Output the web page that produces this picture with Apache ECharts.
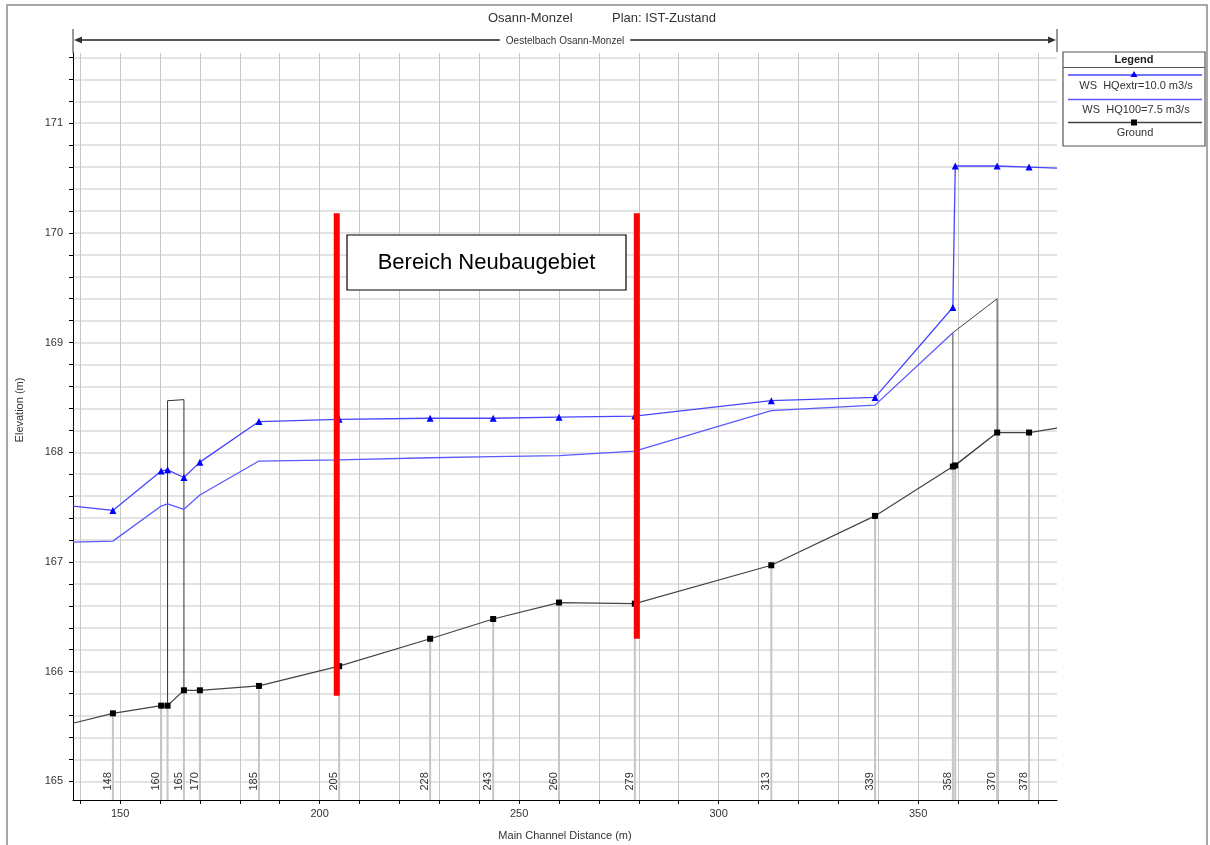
<!DOCTYPE html>
<html><head><meta charset="utf-8">
<script src="https://cdn.jsdelivr.net/npm/echarts@6/dist/echarts.min.js"></script>
<style>html,body{margin:0;padding:0;background:#fff}#c{width:1210px;height:845px}</style>
</head><body><div id="c"></div>
<script>
// ---- data ----
const xMin = 138.2, xMax = 384.8, yMin = 164.83, yMax = 171.64;
const xTickValues = [140,150,160,170,180,190,200,210,220,230,240,250,260,270,280,290,300,310,320,330,340,350,360,370,380];
const xLabelValues = [150,200,250,300,350];
const yTickValues = [165.0,165.2,165.4,165.6,165.8,166.0,166.2,166.4,166.6,166.8,167.0,167.2,167.4,167.6,167.8,168.0,168.2,168.4,168.6,168.8,169.0,169.2,169.4,169.6,169.8,170.0,170.2,170.4,170.6,170.8,171.0,171.2,171.4,171.6];
const yLabelValues = [165,166,167,168,169,170,171];

const stationX     = [148.2, 160.3, 161.9, 166.0, 170.0, 184.8, 204.9, 227.7, 243.5, 260.0, 279.0, 313.2, 339.2, 358.7, 359.3, 369.8, 377.8];
const stationLabel = ['148','160','',   '165','170','185','205','228','243','260','279','313','339','358','',   '370','378'];
const groundElev   = [165.62,165.69,165.69,165.83,165.83,165.87,166.05,166.30,166.48,166.63,166.62,166.97,167.42,167.87,167.88,168.18,168.18];
const groundEdges  = [165.53, 168.22];
const wsExtrElev   = [167.47,167.83,167.84,167.77,167.91,168.28,168.30,168.31,168.31,168.32,168.33,168.47,168.50,169.32,170.61,170.61,170.60];
const wsExtrEdges  = [167.51, 170.59];
const ws100Elev    = [167.19,167.51,167.53,167.48,167.61,167.92,167.93,167.95,167.96,167.97,168.01,168.38,168.43,169.09,null,null,null];
const ws100Edges   = [167.18, null];

const bridgeOutline = [[161.9,165.69],[161.9,168.47],[166.0,168.48],[166.0,165.83]];
const weirOutline   = [[358.7,167.87],[358.7,169.09],[369.8,169.40],[369.8,168.18],[358.7,167.87]];

const redMarkX      = [204.3, 279.5];
const redMarkTop    = [170.18, 170.18];
const redMarkBottom = [165.78, 166.30];

const seriesNames = ['WS  HQextr=10.0 m3/s', 'WS  HQ100=7.5 m3/s', 'Ground'];
const annotationText = 'Bereich Neubaugebiet';
const titleLeft = 'Osann-Monzel', titleRight = 'Plan: IST-Zustand';
const riverName = 'Oestelbach Osann-Monzel';

// ---- build ----
const FONT = '"Liberation Sans", Arial, sans-serif';
function profile(vals, edges) {
  const arr = [];
  if (edges[0] !== null) arr.push({value: [xMin, edges[0]], symbol: 'none'});
  stationX.forEach((x, i) => { if (vals[i] !== null) arr.push({value: [x, vals[i]]}); });
  if (edges[1] !== null) arr.push({value: [xMax, edges[1]], symbol: 'none'});
  return arr;
}

const chart = echarts.init(document.getElementById('c'), null, {renderer: 'canvas'});
const series = [
  {
    type: 'custom', coordinateSystem: 'cartesian2d', silent: true, z: 1,
    data: stationX.map((x, i) => [x, groundElev[i]]),
    renderItem(params, api) {
      const x = api.value(0), g = api.value(1);
      const p1 = api.coord([x, g]), p2 = api.coord([x, yMin]), pl = api.coord([x, 165]);
      const children = [{type: 'line', shape: {x1: p1[0], y1: p1[1], x2: p2[0], y2: p2[1]},
        style: {stroke: '#c6c6c6', lineWidth: 2}}];
      const lab = stationLabel[params.dataIndex];
      if (lab) children.push({type: 'text', x: pl[0] - 5, y: pl[1], rotation: Math.PI / 2,
        style: {text: lab, align: 'center', verticalAlign: 'middle', fill: '#333', font: '11px ' + FONT}});
      return {type: 'group', children};
    }
  },
  {type: 'line', data: bridgeOutline, symbol: 'none', z: 2, lineStyle: {color: '#333', width: 1}},
  {type: 'line', data: weirOutline, symbol: 'none', z: 2, lineStyle: {color: '#444', width: 1}},
  {name: seriesNames[2], type: 'line', data: profile(groundElev, groundEdges), z: 3,
    symbol: 'rect', symbolSize: 6, itemStyle: {color: '#000'}, lineStyle: {color: '#444', width: 1.2}},
  {name: seriesNames[1], type: 'line', data: profile(ws100Elev, ws100Edges), z: 3,
    symbol: 'none', lineStyle: {color: '#5a5aff', width: 1.3}},
  {name: seriesNames[0], type: 'line', data: profile(wsExtrElev, wsExtrEdges), z: 4,
    symbol: 'triangle', symbolSize: 7, itemStyle: {color: '#0000ff'}, lineStyle: {color: '#4646ff', width: 1.3}},
];
redMarkX.forEach((x, i) => series.push({type: 'line', data: [[x, redMarkTop[i]], [x, redMarkBottom[i]]],
  symbol: 'none', z: 6, lineStyle: {color: '#ff0000', width: 6, cap: 'butt'}}));

const legendX0 = 1063, legendW = 142;
const graphic = [
  {type: 'rect', shape: {x: 7, y: 5, width: 1200, height: 860}, style: {fill: 'none', stroke: '#8a8a8a', lineWidth: 1.5}, z: 0},
  {type: 'text', x: 488, y: 18, style: {text: titleLeft, font: '13px ' + FONT, fill: '#333', align: 'left', verticalAlign: 'middle'}},
  {type: 'text', x: 612, y: 18, style: {text: titleRight, font: '13px ' + FONT, fill: '#333', align: 'left', verticalAlign: 'middle'}},
  // river arrow
  {type: 'line', shape: {x1: 76, y1: 40, x2: 1054, y2: 40}, style: {stroke: '#555', lineWidth: 2}},
  {type: 'polygon', shape: {points: [[74, 40], [82, 36.5], [82, 43.5]]}, style: {fill: '#333'}},
  {type: 'polygon', shape: {points: [[1056, 40], [1048, 36.5], [1048, 43.5]]}, style: {fill: '#333'}},
  {type: 'line', shape: {x1: 73, y1: 29, x2: 73, y2: 53}, style: {stroke: '#333', lineWidth: 1}},
  {type: 'line', shape: {x1: 1057, y1: 29, x2: 1057, y2: 52}, style: {stroke: '#333', lineWidth: 1}},
  {type: 'text', x: 565, y: 41, style: {text: riverName, font: '10px ' + FONT, fill: '#333', align: 'center', verticalAlign: 'middle',
    backgroundColor: '#fff', padding: [1, 6]}},
  // axis names
  {type: 'text', x: 20, y: 410, rotation: Math.PI / 2, style: {text: 'Elevation (m)', font: '11px ' + FONT, fill: '#333', align: 'center', verticalAlign: 'middle'}},
  {type: 'text', x: 565, y: 836, style: {text: 'Main Channel Distance (m)', font: '11px ' + FONT, fill: '#333', align: 'center', verticalAlign: 'middle'}},
  // annotation box
  {type: 'rect', shape: {x: 347, y: 235, width: 279, height: 55}, style: {fill: '#fff', stroke: '#000', lineWidth: 1.2}, z: 10},
  {type: 'text', x: 486.5, y: 262.5, style: {text: annotationText, font: '22px ' + FONT, fill: '#000', align: 'center', verticalAlign: 'middle'}, z: 11},
  // legend
  {type: 'rect', shape: {x: legendX0, y: 52, width: legendW, height: 94}, style: {fill: '#fff', stroke: '#555', lineWidth: 1.2}, z: 10},
  {type: 'text', x: legendX0 + legendW / 2, y: 59.5, style: {text: 'Legend', font: 'bold 11px ' + FONT, fill: '#222', align: 'center', verticalAlign: 'middle'}, z: 11},
  {type: 'line', shape: {x1: legendX0, y1: 67.5, x2: legendX0 + legendW, y2: 67.5}, style: {stroke: '#555', lineWidth: 1}, z: 11},
  {type: 'line', shape: {x1: 1068, y1: 75, x2: 1202, y2: 75}, style: {stroke: '#4646ff', lineWidth: 1.3}, z: 11},
  {type: 'polygon', shape: {points: [[1134, 71], [1130.5, 77], [1137.5, 77]]}, style: {fill: '#0000ff'}, z: 11},
  {type: 'text', x: 1136, y: 86, style: {text: seriesNames[0], font: '11px ' + FONT, fill: '#333', align: 'center', verticalAlign: 'middle'}, z: 11},
  {type: 'line', shape: {x1: 1068, y1: 99.5, x2: 1202, y2: 99.5}, style: {stroke: '#5a5aff', lineWidth: 1.3}, z: 11},
  {type: 'text', x: 1136, y: 110, style: {text: seriesNames[1], font: '11px ' + FONT, fill: '#333', align: 'center', verticalAlign: 'middle'}, z: 11},
  {type: 'line', shape: {x1: 1068, y1: 122.5, x2: 1202, y2: 122.5}, style: {stroke: '#444', lineWidth: 1.3}, z: 11},
  {type: 'rect', shape: {x: 1131, y: 119.5, width: 6, height: 6}, style: {fill: '#000'}, z: 12},
  {type: 'text', x: 1135, y: 132.5, style: {text: seriesNames[2], font: '11px ' + FONT, fill: '#333', align: 'center', verticalAlign: 'middle'}, z: 11},
];

chart.setOption({
  animation: false,
  backgroundColor: '#fff',
  grid: {left: 73, right: 153, top: 53, bottom: 45, containLabel: false},
  xAxis: {
    type: 'value', min: xMin, max: xMax,
    axisLine: {show: true, onZero: false, lineStyle: {color: '#000', width: 1}},
    axisTick: {show: true, length: 4, customValues: xTickValues, lineStyle: {color: '#000'}},
    axisLabel: {customValues: xLabelValues, color: '#333', fontSize: 11, fontFamily: FONT, margin: 8},
    splitLine: {show: true, lineStyle: {color: '#c8c8c8', width: 1}}
  },
  yAxis: {
    type: 'value', min: yMin, max: yMax,
    axisLine: {show: true, onZero: false, lineStyle: {color: '#000', width: 1}},
    axisTick: {show: true, length: 4, customValues: yTickValues, lineStyle: {color: '#000'}},
    axisLabel: {customValues: yLabelValues, color: '#333', fontSize: 11, fontFamily: FONT, margin: 10},
    splitLine: {show: true, lineStyle: {color: '#dadada', width: 1.5}}
  },
  series,
  graphic
});
</script>
</body></html>
